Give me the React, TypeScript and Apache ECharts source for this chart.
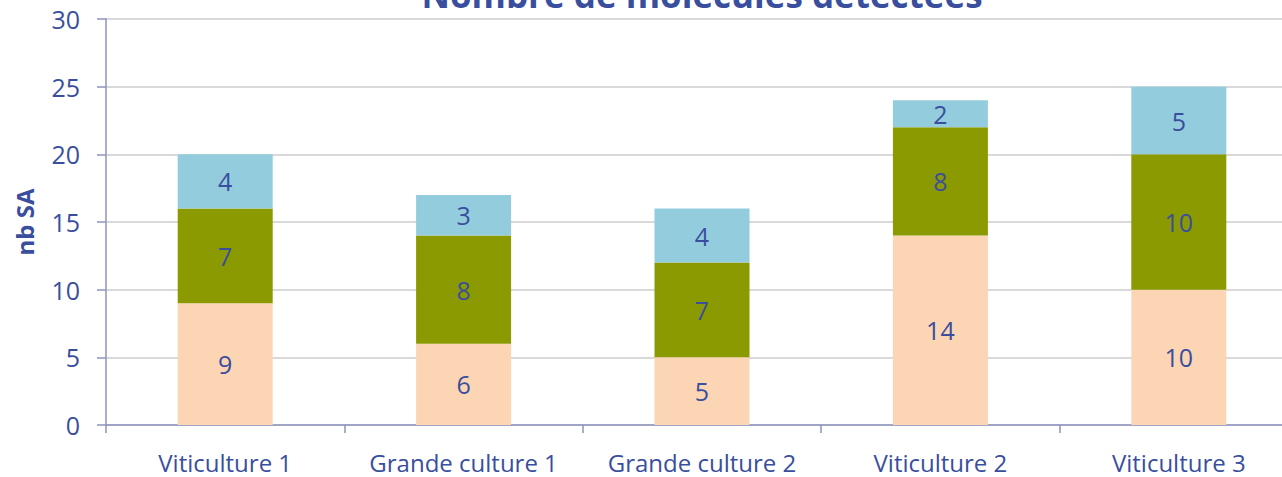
import React, { useEffect, useRef } from "react";
import * as echarts from "echarts";

const categories = ["Viticulture 1", "Grande culture 1", "Grande culture 2", "Viticulture 2", "Viticulture 3"];
const serieA = [9, 6, 5, 14, 10];
const serieB = [7, 8, 7, 8, 10];
const serieC = [4, 3, 4, 2, 5];
const seriesNames = ["Série 1", "Série 2", "Série 3"];
const seriesColors = ["#FCD5B5", "#8B9A00", "#93CDDD"];
const title = "Nombre de molécules détectées";
const yName = "nb SA";

const textBlue = "#3A4E9E";
const font = "'Open Sans', 'Noto Sans', sans-serif";

export default function App() {
  const ref = useRef<HTMLDivElement>(null);
  useEffect(() => {
    document.body.style.margin = "0";
    const chart = echarts.init(ref.current!, null, { renderer: "svg" });
    const values = [serieA, serieB, serieC];
    chart.setOption({
      animation: false,
      backgroundColor: "#ffffff",
      title: {
        text: title,
        left: 697,
        top: -28,
        textAlign: "center",
        textStyle: { color: textBlue, fontSize: 35, fontWeight: "bold", fontFamily: font },
      },
      grid: { left: 106, right: 0, top: 19, bottom: 52, containLabel: false },
      xAxis: {
        type: "category",
        data: categories,
        axisLine: { lineStyle: { color: "#8C93BE", width: 1.5 } },
        axisTick: { show: true, interval: 0, length: 8, alignWithLabel: false, lineStyle: { color: "#8C93BE", width: 1.5 } },
        axisLabel: { color: textBlue, fontSize: 24, lineHeight: 24, fontFamily: font, margin: 25, interval: 0 },
      },
      yAxis: {
        type: "value",
        min: 0,
        max: 30,
        interval: 5,
        name: yName,
        nameLocation: "middle",
        nameGap: 70,
        nameTextStyle: { color: textBlue, fontSize: 24, fontWeight: "bold", fontFamily: font },
        axisLine: { show: true, lineStyle: { color: "#8C93BE", width: 1.5 } },
        axisTick: { show: true, length: 9, lineStyle: { color: "#8C93BE", width: 1.5 } },
        axisLabel: { color: textBlue, fontSize: 25, fontFamily: font, margin: 26 },
        splitLine: { lineStyle: { color: "#D9D9D9", width: 2 } },
      },
      series: values.map((v, i) => ({
        name: seriesNames[i],
        type: "bar",
        stack: "total",
        data: v,
        barWidth: 95,
        itemStyle: { color: seriesColors[i] },
        label: {
          show: true,
          position: "inside",
          color: textBlue,
          fontSize: 25,
          fontFamily: font,
        },
      })),
    });
    return () => chart.dispose();
  }, []);
  return (
    <div style={{ width: 1282, height: 477, overflow: "hidden", position: "relative" }}>
      <div ref={ref} style={{ width: 1298, height: 477 }} />
    </div>
  );
}
